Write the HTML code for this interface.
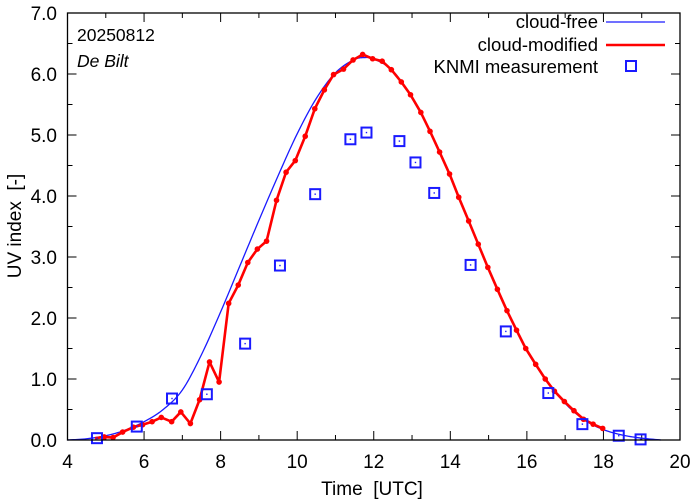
<!DOCTYPE html>
<html><head><meta charset="utf-8"><style>
body{margin:0;background:#fff}
svg{display:block;font-family:"Liberation Sans",sans-serif}
text{white-space:pre}
</style></head><body>
<svg id="chart" width="694" height="501"></svg>
<script>
const redTimes=[4.72,4.96,5.19,5.44,5.72,5.96,6.21,6.45,6.72,6.96,7.21,7.45,7.71,7.96,8.21,8.46,8.71,8.96,9.2,9.46,9.71,9.95,10.21,10.46,10.71,10.95,11.21,11.46,11.71,11.97,12.22,12.46,12.72,12.96,13.23,13.47,13.72,13.98,14.22,14.48,14.73,14.98,15.23,15.48,15.73,15.97,16.23,16.48,16.72,16.98,17.23,17.48,17.73,17.98];
const redValues=[0.03,0.05,0.04,0.13,0.21,0.25,0.30,0.37,0.30,0.46,0.27,0.66,1.28,0.95,2.24,2.54,2.91,3.13,3.26,3.93,4.39,4.58,4.98,5.43,5.74,5.99,6.08,6.23,6.32,6.25,6.21,6.07,5.87,5.66,5.37,5.06,4.72,4.36,3.98,3.59,3.21,2.83,2.47,2.12,1.80,1.50,1.24,1.00,0.80,0.63,0.48,0.34,0.26,0.19];
const clearTimes=[4.0,4.5,5.0,5.5,6.0,6.5,7.0,7.5,8.0,8.5,9.0,9.5,10.0,10.5,11.0,11.5,11.8,12.0,12.5,13.0,13.5,14.0,14.5,15.0,15.5,16.0,16.5,17.0,17.5,18.0,18.5,19.0,19.5];
const clearValues=[0.0,0.02,0.07,0.16,0.30,0.50,0.82,1.40,2.10,2.85,3.60,4.33,5.02,5.60,6.02,6.24,6.27,6.25,6.05,5.60,5.02,4.33,3.56,2.79,2.08,1.46,0.98,0.60,0.33,0.17,0.08,0.03,0.0];
const measTimes=[4.77,5.81,6.73,7.64,8.64,9.55,10.47,11.39,11.81,12.67,13.09,13.58,14.53,15.45,16.56,17.45,18.4,18.97];
const measValues=[0.03,0.22,0.68,0.75,1.58,2.86,4.03,4.93,5.04,4.90,4.55,4.05,2.87,1.78,0.77,0.26,0.07,0.01];
const xTicks=[4,6,8,10,12,14,16,18,20];
const yTicks=[0,1,2,3,4,5,6,7];

const L=67.5,R=680,T=13,B=440,X0=4,X1=20,Y0=0,Y1=7;
const sx=t=>L+(t-X0)/(X1-X0)*(R-L);
const sy=v=>B-(v-Y0)/(Y1-Y0)*(B-T);
const NS="http://www.w3.org/2000/svg";
const svg=document.getElementById('chart');
function mk(tag,attrs,parent){const e=document.createElementNS(NS,tag);for(const k in attrs)e.setAttribute(k,attrs[k]);(parent||svg).appendChild(e);return e;}

const tg=mk('g',{stroke:'#000','stroke-width':1});


for(let t=4;t<=20;t+=1){const len=(t%2===0)?9:5;const x=sx(t);
 mk('line',{x1:x,y1:B,x2:x,y2:B-len},tg);mk('line',{x1:x,y1:T,x2:x,y2:T+len},tg);}
for(let v=0;v<=7;v+=0.5){const len=(v%1===0)?9:5;const y=sy(v);
 mk('line',{x1:L,y1:y,x2:L+len,y2:y},tg);mk('line',{x1:R,y1:y,x2:R-len,y2:y},tg);}
xTicks.forEach(t=>{const e=mk('text',{x:sx(t),y:468,'text-anchor':'middle','font-size':19});e.textContent=t;
 
 });
yTicks.forEach(v=>{const e=mk('text',{x:57,y:sy(v)+7,'text-anchor':'end','font-size':19});e.textContent=v.toFixed(1);
 
 });

const n=clearTimes.length,m=[];
for(let i=0;i<n;i++){
 if(i===0)m.push((clearValues[1]-clearValues[0])/(clearTimes[1]-clearTimes[0]));
 else if(i===n-1)m.push((clearValues[n-1]-clearValues[n-2])/(clearTimes[n-1]-clearTimes[n-2]));
 else m.push((clearValues[i+1]-clearValues[i-1])/(clearTimes[i+1]-clearTimes[i-1]));}
let d='';
for(let i=0;i<n-1;i++){const h=clearTimes[i+1]-clearTimes[i];
 for(let k=0;k<=10;k++){const s=k/10,s2=s*s,s3=s2*s;
  const v=(2*s3-3*s2+1)*clearValues[i]+(s3-2*s2+s)*h*m[i]+(-2*s3+3*s2)*clearValues[i+1]+(s3-s2)*h*m[i+1];
  const t=clearTimes[i]+s*h;d+=(d?' L':'M')+sx(t).toFixed(2)+','+sy(Math.max(0,v)).toFixed(2);}}
const cf=mk('path',{d:d,fill:'none',stroke:'#1a1aff','stroke-width':1.3});



const rp=mk('polyline',{points:redTimes.map((t,i)=>sx(t)+','+sy(redValues[i])).join(' '),fill:'none',stroke:'#ff0000','stroke-width':2.6,'stroke-linejoin':'round'});


redTimes.forEach((t,i)=>{if(i===0)return;const c=mk('circle',{cx:sx(t),cy:sy(redValues[i]),r:2.8,fill:'#ff0000'});
 
 });

measTimes.forEach((t,i)=>{const x=sx(t),y=sy(measValues[i]);
 const g=mk('g',{});
 
 
 mk('rect',{x:x-5,y:y-5,width:10,height:10,fill:'none',stroke:'#1a1aff','stroke-width':2},g);
 mk('rect',{x:x-0.7,y:y-0.7,width:1.4,height:1.4,fill:'#1a1aff'},g);});

const fr=mk('rect',{x:L,y:T,width:R-L,height:B-T,fill:'none',stroke:'#000','stroke-width':1.3});


</script>
<script>
(function(){
const svg=document.getElementById('chart');const NS="http://www.w3.org/2000/svg";
function t(x,y,s,attrs,name){const e=document.createElementNS(NS,'text');e.setAttribute('x',x);e.setAttribute('y',y);for(const k in attrs)e.setAttribute(k,attrs[k]);e.textContent=s;svg.appendChild(e);
 
 return e;}
t(77,41,'20250812',{'font-size':17.5},'date-label');
t(77,67,'De Bilt',{'font-size':17.5,'font-style':'italic'},'station-label');
t(372,495,'Time  [UTC]',{'font-size':19,'text-anchor':'middle'},'x-axis-title');
t(21,226,'UV index  [-]',{'font-size':19,'text-anchor':'middle',transform:'rotate(-90 21 226)'},'y-axis-title');
t(598,28,'cloud-free',{'font-size':18.5,'text-anchor':'end'},'legend-cloud-free');
t(598,51,'cloud-modified',{'font-size':18.5,'text-anchor':'end'},'legend-cloud-modified');
t(598,73,'KNMI measurement',{'font-size':18.5,'text-anchor':'end'},'legend-knmi');
function ln(x1,y1,x2,y2,c,w,name){const e=document.createElementNS(NS,'line');e.setAttribute('x1',x1);e.setAttribute('y1',y1);e.setAttribute('x2',x2);e.setAttribute('y2',y2);e.setAttribute('stroke',c);e.setAttribute('stroke-width',w);svg.appendChild(e);
 
 }
ln(606,22,665,22,'#1a1aff',1.3,'legend-swatch-cloud-free');
ln(606,45,665,45,'#ff0000',2.6,'legend-swatch-cloud-modified');
const r=document.createElementNS(NS,'rect');r.setAttribute('x',626);r.setAttribute('y',61);r.setAttribute('width',10);r.setAttribute('height',10);r.setAttribute('fill','none');r.setAttribute('stroke','#1a1aff');r.setAttribute('stroke-width',2);svg.appendChild(r);


})();
</script>
</body></html>
